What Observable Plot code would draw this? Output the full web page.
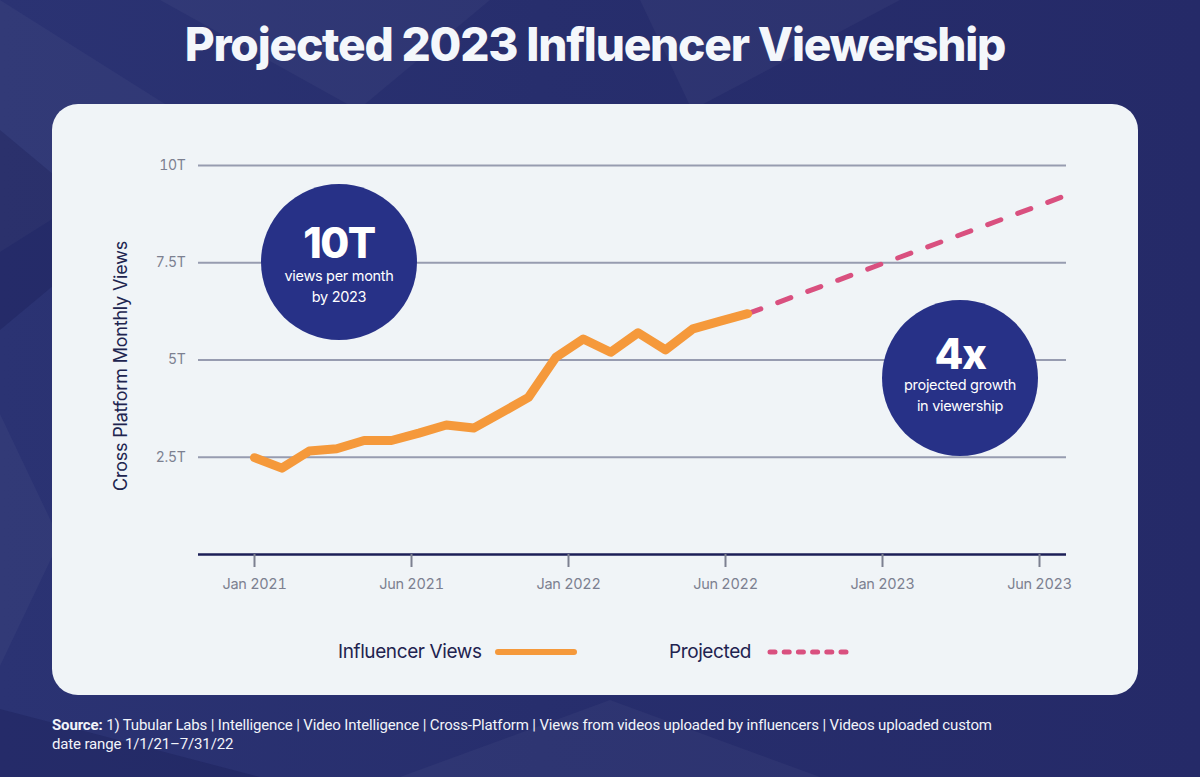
<!DOCTYPE html>
<html>
<head>
<meta charset="utf-8">
<script src="https://cdn.jsdelivr.net/npm/d3@7"></script>
<script src="https://cdn.jsdelivr.net/npm/@observablehq/plot@0.6"></script>
<style>
  html, body { margin: 0; padding: 0; }
  body { width: 1200px; height: 777px; overflow: hidden; position: relative;
         background: linear-gradient(90deg, #2b3373 0%, #272e6d 45%, #252a68 100%);
         font-family: Inter, "Noto Sans", sans-serif; }
  .tri { position: absolute; background: rgba(255,255,255,0.035); }
  .tri.dark { background: rgba(10,12,60,0.18); }
  #title { position: absolute; left: 0; width: 1190px; top: 15px; text-align: center;
           color: #f4f7fb; font-weight: 800; font-size: 46px; letter-spacing: -1.2px; line-height: 58px; }
  #card { position: absolute; left: 52px; top: 104px; width: 1086px; height: 591px;
          background: #f0f4f7; border-radius: 26px; }
  #chart { position: absolute; left: 0; top: 0; }
  #ylabel { position: absolute; left: 120px; top: 366px; transform: translate(-50%, -50%) rotate(-90deg);
            white-space: nowrap; font-size: 18px; color: #20244f; letter-spacing: -0.2px; }
  .bubble { position: absolute; width: 156px; height: 156px; border-radius: 50%; background: #273187;
            color: #fff; text-align: center; }
  .bubble .big { position: absolute; left: 0; right: 0; font-weight: 800; font-size: 42px; letter-spacing: -1.5px; line-height: 44px; }
  .bubble .small { position: absolute; left: 0; right: 0; font-size: 14.5px; line-height: 21px; letter-spacing: -0.3px; }
  .leg { position: absolute; top: 640px; font-size: 19px; color: #1f2350; letter-spacing: -0.4px; line-height: 24px; }
  #source { position: absolute; left: 52px; top: 716px; color: #f2f4fa; font-size: 15px; line-height: 19px;
            letter-spacing: -0.15px; font-family: Roboto, Inter, sans-serif; }
</style>
</head>
<body>
<div class="tri" style="left:0;top:0;width:200px;height:420px;clip-path:polygon(0 0,100% 30%,0 60%);"></div>
<div class="tri dark" style="left:0;top:130px;width:120px;height:200px;clip-path:polygon(0 0,100% 50%,0 100%);"></div>
<div class="tri" style="left:0;top:330px;width:60px;height:420px;clip-path:polygon(0 20%,100% 50%,0 80%);"></div>
<div class="tri dark" style="left:0;top:680px;width:260px;height:97px;clip-path:polygon(0 30%,100% 100%,0 100%);"></div>
<div class="tri" style="left:160px;top:0;width:330px;height:110px;clip-path:polygon(0 0,100% 0,60% 100%);"></div>
<div class="tri" style="left:640px;top:0;width:260px;height:110px;clip-path:polygon(0 0,100% 0,20% 100%);"></div>
<div class="tri" style="left:400px;top:700px;width:420px;height:77px;clip-path:polygon(0 100%,50% 0,100% 100%);"></div>

<div id="title">Projected 2023 Influencer Viewership</div>
<div id="card"></div>
<div id="chart"></div>
<div id="ylabel">Cross Platform Monthly Views</div>

<div class="bubble" style="left:261px;top:184px;">
  <div class="big" style="top:37px;">10T</div>
  <div class="small" style="top:81px;">views per month<br>by 2023</div>
</div>
<div class="bubble" style="left:882px;top:300px;">
  <div class="big" style="top:32px;">4x</div>
  <div class="small" style="top:74px;">projected growth<br>in viewership</div>
</div>

<div class="leg" style="left:338px;">Influencer Views</div>
<div style="position:absolute;left:495px;top:649px;width:82px;height:6px;border-radius:3px;background:#f5993b;"></div>
<div class="leg" style="left:669px;">Projected</div>
<svg style="position:absolute;left:766px;top:647px;" width="90" height="10">
  <line x1="4" y1="5" x2="84" y2="5" stroke="#d9507f" stroke-width="5" stroke-linecap="round" stroke-dasharray="5 9.2"></line>
</svg>

<div id="source"><b>Source:</b> 1) Tubular Labs | Intelligence | Video Intelligence | Cross-Platform | Views from videos uploaded by influencers | Videos uploaded custom<br>date range 1/1/21–7/31/22</div>

<script>
// ---- data ----
const monthLabels = ["Jan 2021","Feb 2021","Mar 2021","Apr 2021","May 2021","Jun 2021","Jul 2021","Aug 2021","Sep 2021",
  "Oct 2021","Nov 2021","Dec 2021","Jan 2022","Feb 2022","Mar 2022","Apr 2022","May 2022","Jun 2022","Jul 2022"];
const views = [2.49, 2.22, 2.66, 2.72, 2.93, 2.93, 3.12, 3.33, 3.25, 3.64, 4.04, 5.07, 5.54, 5.20, 5.70, 5.26, 5.80, 6.00, 6.19]; // trillions
const projectedMonths = [18, 29.7];      // months since Jan 2021
const projectedViews = [6.19, 9.25];     // trillions
const tickLabels = ["Jan 2021", "Jun 2021", "Jan 2022", "Jun 2022", "Jan 2023", "Jun 2023"];
const monthsPerTick = 5.73;              // axis ticks are evenly spaced in the picture
const yTicks = [2.5, 5, 7.5, 10];

const tickPositions = tickLabels.map((_, k) => k * monthsPerTick);
const actual = views.map((v, i) => ({month: i, label: monthLabels[i], value: v}));
const projected = projectedViews.map((v, i) => ({month: projectedMonths[i], value: v}));

const chart = Plot.plot({
  width: 1200,
  height: 600,
  marginLeft: 198,
  marginRight: 134,
  marginTop: 165,
  marginBottom: 46,
  style: {background: "transparent", fontFamily: "Inter, sans-serif", overflow: "visible"},
  x: {domain: [0, 5 * monthsPerTick], insetLeft: 56, insetRight: 27},
  y: {domain: [0, 10]},
  marks: [
    Plot.ruleY(yTicks, {stroke: "#979cb0", strokeWidth: 2}),
    Plot.ruleY([0], {stroke: "#1c1f57", strokeWidth: 2.5}),
    Plot.axisY({ticks: yTicks, tickSize: 0, tickPadding: 13, tickFormat: d => d + "T",
                fontSize: 14, color: "#7c8090", label: null}),
    Plot.axisX({ticks: tickPositions, tickFormat: (d, i) => tickLabels[i], tickSize: 13, tickPadding: 11,
                fontSize: 14.5, color: "#7c8090", strokeWidth: 2, label: null}),
    Plot.line(projected, {x: "month", y: "value", stroke: "#d9507f", strokeWidth: 5,
                          strokeDasharray: "14 18", strokeLinecap: "round", clip: false}),
    Plot.line(actual, {x: "month", y: "value", stroke: "#f5993b", strokeWidth: 9,
                       strokeLinejoin: "round", strokeLinecap: "round"})
  ]
});
chart.querySelectorAll("text").forEach(t => t.style.letterSpacing = "-0.3px");
document.getElementById("chart").appendChild(chart);
</script>
</body>
</html>
